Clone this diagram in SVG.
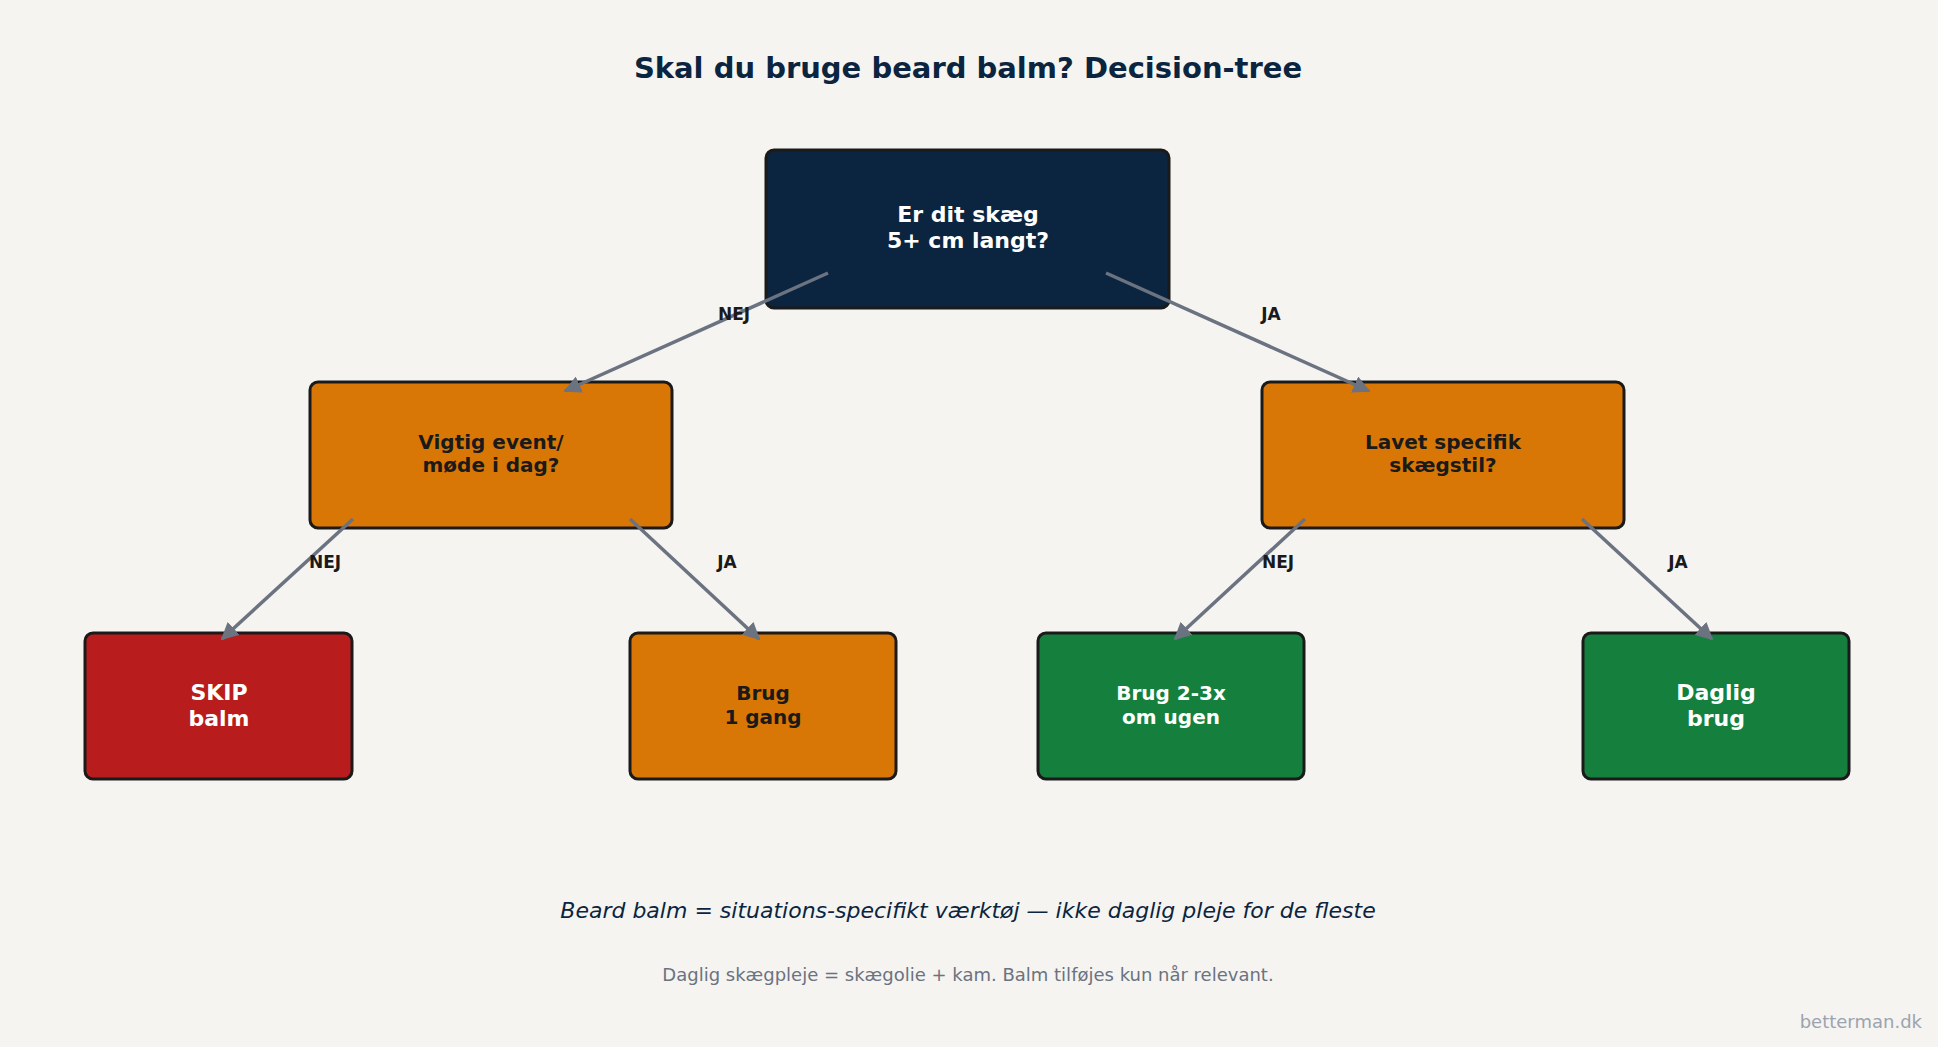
<svg xmlns="http://www.w3.org/2000/svg" width="1938" height="1047" viewBox="0 0 1938 1047">
<style>
text{font-family:"DejaVu Sans","Noto Sans",sans-serif;text-anchor:middle}
.n{stroke:#1a1a1a;stroke-width:3}
.w{fill:#fff;font-weight:bold}
.d{fill:#1a1a1a;font-weight:bold}
.l{fill:#1a1a1a;font-weight:bold;font-size:17px}
.c{stroke:#6b7280;stroke-width:3.5;fill:none;marker-end:url(#a)}
</style>
<defs><marker id="a" viewBox="0 0 10 10" refX="9" refY="5" markerWidth="5" markerHeight="5" orient="auto"><path d="M0,0L10,5L0,10z" fill="#6b7280"/></marker></defs>
<rect width="1938" height="1047" fill="#f5f4f1"/>
<text x="968" y="78" font-size="29" font-weight="bold" fill="#0b2540">Skal du bruge beard balm? Decision-tree</text>
<g id="root"><rect class="n" x="766" y="150" width="403" height="158" rx="8" fill="#0b2540"/><text class="w" font-size="22" x="968" y="222">Er dit skæg</text><text class="w" font-size="22" x="968" y="248">5+ cm langt?</text></g>
<g id="left"><rect class="n" x="310" y="382" width="362" height="146" rx="8" fill="#d97706"/><text class="d" font-size="20" x="491" y="449">Vigtig event/</text><text class="d" font-size="20" x="491" y="472">møde i dag?</text></g>
<g id="right"><rect class="n" x="1262" y="382" width="362" height="146" rx="8" fill="#d97706"/><text class="d" font-size="20" x="1443" y="449">Lavet specifik</text><text class="d" font-size="20" x="1443" y="472">skægstil?</text></g>
<g id="skip"><rect class="n" x="85" y="633" width="267" height="146" rx="8" fill="#b91c1c"/><text class="w" font-size="22" x="219" y="700">SKIP</text><text class="w" font-size="22" x="219" y="726">balm</text></g>
<g id="brug1"><rect class="n" x="630" y="633" width="266" height="146" rx="8" fill="#d97706"/><text class="d" font-size="20" x="763" y="700">Brug</text><text class="d" font-size="20" x="763" y="724">1 gang</text></g>
<g id="brug2"><rect class="n" x="1038" y="633" width="266" height="146" rx="8" fill="#15803d"/><text class="w" font-size="20" x="1171" y="700">Brug 2-3x</text><text class="w" font-size="20" x="1171" y="724">om ugen</text></g>
<g id="daglig"><rect class="n" x="1583" y="633" width="266" height="146" rx="8" fill="#15803d"/><text class="w" font-size="22" x="1716" y="700">Daglig</text><text class="w" font-size="22" x="1716" y="726">brug</text></g>
<g id="connectors">
<path class="c" d="M828,273L565,391"/><path class="c" d="M1106,273L1369,391"/>
<path class="c" d="M353,519L222,639"/><path class="c" d="M630,519L759,639"/>
<path class="c" d="M1305,519L1175,639"/><path class="c" d="M1582,519L1712,639"/>
<text class="l" x="734" y="320">NEJ</text><text class="l" x="1271" y="320">JA</text>
<text class="l" x="325" y="568">NEJ</text><text class="l" x="727" y="568">JA</text>
<text class="l" x="1278" y="568">NEJ</text><text class="l" x="1678" y="568">JA</text>
</g>
<text x="968" y="918" font-size="22" font-style="italic" fill="#0b2540">Beard balm = situations-specifikt værktøj — ikke daglig pleje for de fleste</text>
<text x="968" y="981" font-size="18" fill="#6b7280">Daglig skægpleje = skægolie + kam. Balm tilføjes kun når relevant.</text>
<text x="1922" y="1028" font-size="18" fill="#9ca3af" style="text-anchor:end">betterman.dk</text>
</svg>
